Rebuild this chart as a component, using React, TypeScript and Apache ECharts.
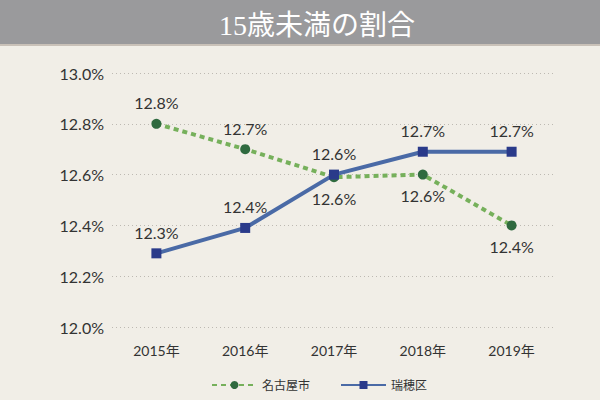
import React, { useEffect, useRef } from "react";
import * as echarts from "echarts";

const title = "15歳未満の割合";
const categories = ["2015年", "2016年", "2017年", "2018年", "2019年"];
const nagoyaName = "名古屋市";
const mizuhoName = "瑞穂区";
const nagoya = [12.8, 12.7, 12.59, 12.6, 12.4];
const mizuho = [12.29, 12.39, 12.6, 12.69, 12.69];
const nagoyaLabelBelow = [false, false, true, true, true];

const FONT = "Lato, 'Noto Sans CJK JP', sans-serif";

export default function App() {
  const ref = useRef<HTMLDivElement>(null);
  useEffect(() => {
    document.body.style.margin = "0";
    const chart = echarts.init(ref.current!, null, { renderer: "svg" });
    const fmt = (v: number) => v.toFixed(1) + "%";
    chart.setOption({
      animation: false,
      backgroundColor: "#f1eee7",
      textStyle: { fontFamily: FONT },
      graphic: [
        { type: "rect", left: 0, top: 0, shape: { width: 600, height: 44 }, style: { fill: "#9a9a9c" }, z: 0 },
        { type: "rect", left: 0, top: 44, shape: { width: 600, height: 2 }, style: { fill: "#c9c1b8" }, z: 0 },
      ],
      title: {
        text: title,
        left: 312,
        textAlign: "center",
        top: 6,
        textStyle: {
          color: "#ffffff",
          fontSize: 28,
          fontWeight: "normal",
          fontFamily: "'Liberation Serif', 'Noto Sans CJK JP', serif",
        },
      },
      legend: {
        left: 206,
        top: 374,
        itemWidth: 45,
        itemHeight: 10,
        itemGap: 30,
        textStyle: { color: "#333", fontSize: 12, fontFamily: FONT },
        data: [nagoyaName, mizuhoName],
      },
      grid: { left: 112, right: 44, top: 73, bottom: 73 },
      xAxis: {
        type: "category",
        data: categories,
        boundaryGap: true,
        axisLine: { show: false },
        axisTick: { show: false },
        axisLabel: { color: "#333", fontSize: 14, margin: 16, fontFamily: FONT },
      },
      yAxis: {
        type: "value",
        min: 12.0,
        max: 13.0,
        interval: 0.2,
        axisLine: { show: false },
        axisTick: { show: false },
        axisLabel: { color: "#333", fontSize: 16, margin: 8, formatter: fmt, fontFamily: FONT },
        splitLine: { lineStyle: { color: "#bdb9b2", type: [1, 3], width: 1 } },
      },
      series: [
        {
          name: nagoyaName,
          type: "line",
          data: nagoya.map((v, i) => ({
            value: v,
            label: { position: nagoyaLabelBelow[i] ? "bottom" : "top" },
          })),
          symbol: "circle",
          symbolSize: 10,
          itemStyle: { color: "#2f6a3f" },
          lineStyle: { color: "#76b05b", width: 4, type: [5, 4] },
          label: { show: true, color: "#333", fontSize: 16, distance: 8, formatter: (p: any) => fmt(p.value), fontFamily: FONT },
          z: 2,
        },
        {
          name: mizuhoName,
          type: "line",
          data: mizuho,
          symbol: "rect",
          symbolSize: 10,
          itemStyle: { color: "#2a3a8a" },
          lineStyle: { color: "#4a6aa6", width: 4 },
          label: { show: true, position: "top", color: "#333", fontSize: 16, distance: 8, formatter: (p: any) => fmt(p.value), fontFamily: FONT },
          z: 3,
        },
      ],
    });
    return () => chart.dispose();
  }, []);
  return <div ref={ref} style={{ width: 600, height: 400 }} />;
}
